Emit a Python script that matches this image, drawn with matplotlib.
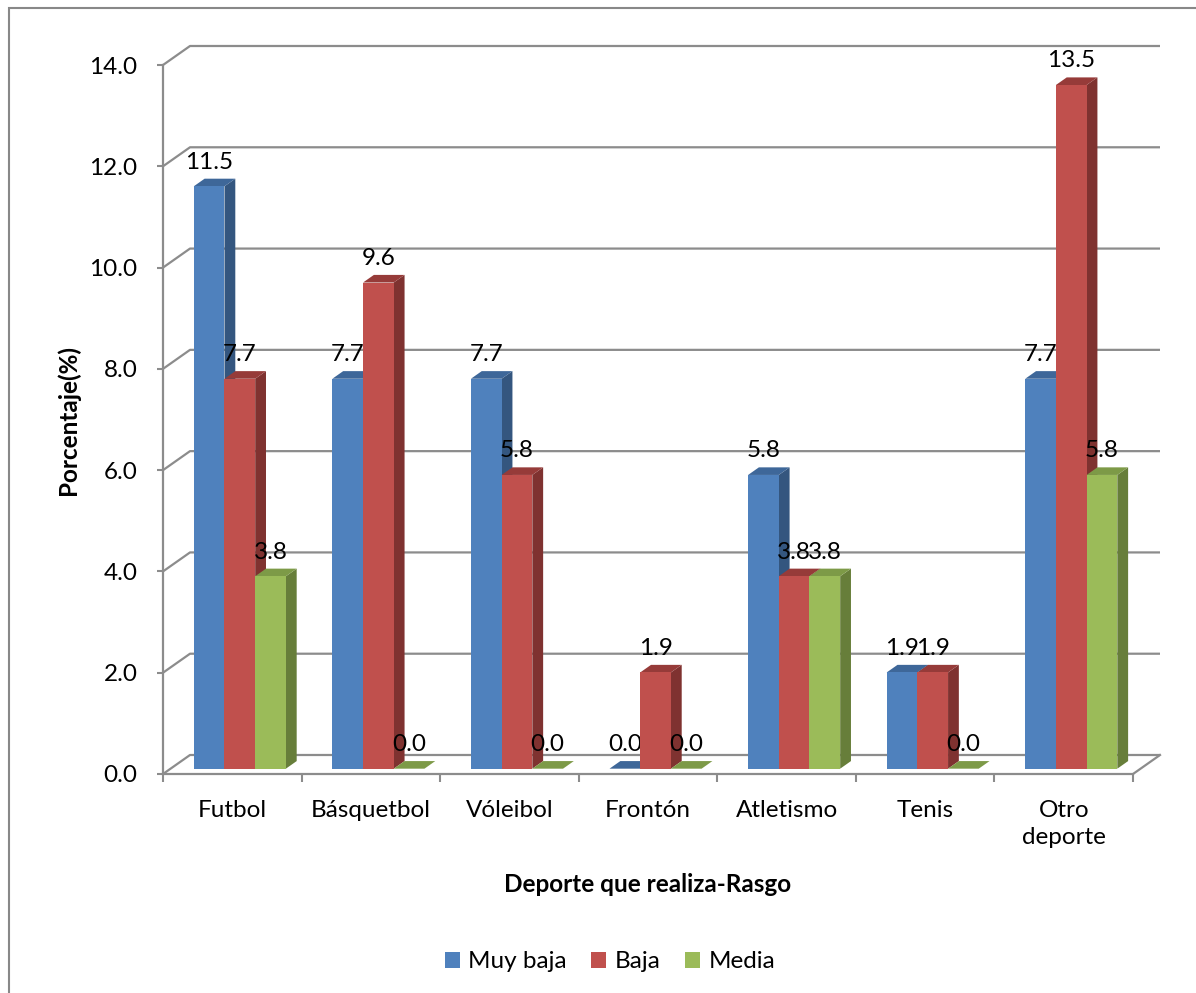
import numpy as np
import matplotlib
matplotlib.use("Agg")
import matplotlib.pyplot as plt
from matplotlib.patches import Polygon, Rectangle

plt.rcParams['font.family'] = ['Lato', 'DejaVu Sans']

categories = ["Futbol", "Básquetbol", "Vóleibol", "Frontón", "Atletismo", "Tenis", "Otro\ndeporte"]
series_names = ["Muy baja", "Baja", "Media"]
muy_baja = [11.5, 7.7, 7.7, 0.0, 5.8, 1.9, 7.7]
baja = [7.7, 9.6, 5.8, 1.9, 3.8, 1.9, 13.5]
media = [3.8, 0.0, 0.0, 0.0, 3.8, 0.0, 5.8]
yticks = [0, 2, 4, 6, 8, 10, 12, 14]

front_colors = ["#4F81BD", "#C0504D", "#9BBB59"]
top_colors = ["#3E6799", "#963B39", "#7D9A47"]
side_colors = ["#34567F", "#7F3230", "#677E3A"]

W, H = 1196, 993
fig = plt.figure(figsize=(W / 100, H / 100), dpi=100)
ax = fig.add_axes([163 / W, 1 - 774 / H, 970 / W, (774 - 65) / H])
ax.set_xlim(-0.5, len(categories) - 0.5)
ax.set_ylim(0, 14)
ax.patch.set_visible(False)

GRAY = "#8C8C8C"
FS = 17.5
# 3D oblique offsets in data units
DX = 27 / 138.57
DY = 19 / 50.64
F0, F1 = 0.28, 0.68

for s in ["top", "right"]:
    ax.spines[s].set_visible(False)
for s in ["left", "bottom"]:
    ax.spines[s].set_color(GRAY)
    ax.spines[s].set_linewidth(1.6)

# gridlines on back wall + left wall
x_left, x_right = -0.5, len(categories) - 0.5
for v in yticks:
    ax.plot([x_left, x_left + DX, x_right + DX], [v, v + DY, v + DY],
            color=GRAY, lw=1.6, clip_on=False, zorder=1, solid_capstyle='butt')
ax.plot([x_right, x_right + DX], [0, DY], color=GRAY, lw=1.6, clip_on=False, zorder=1)

ax.set_yticks(yticks)
ax.set_yticklabels([f"{v:.1f}" for v in yticks], fontsize=FS)
ax.tick_params(axis='y', length=4.3, width=1.5, color=GRAY, pad=14)

ax.set_xticks(np.arange(-0.5, len(categories)), labels=[""] * (len(categories) + 1))
ax.tick_params(axis='x', which='major', length=5.8, width=1.5, color=GRAY)
ax.set_xticks(np.arange(len(categories)), minor=True)
ax.set_xticklabels(categories, minor=True, fontsize=FS, linespacing=1.4)
ax.tick_params(axis='x', which='minor', length=0, pad=18.5)

data = [muy_baja, baja, media]
w = 0.2215
for si, vals in enumerate(data):
    for ci, v in enumerate(vals):
        x0 = ci - 1.5 * w + si * w
        a, b = F0 * DX, F0 * DY
        a2, b2 = F1 * DX, F1 * DY
        z = 3 + si
        front = Rectangle((x0 + a, b), w, v, facecolor=front_colors[si], edgecolor='none', zorder=z)
        top = Polygon([(x0 + a, v + b), (x0 + w + a, v + b), (x0 + w + a2, v + b2), (x0 + a2, v + b2)],
                      closed=True, facecolor=top_colors[si], edgecolor='none', zorder=z)
        side = Polygon([(x0 + w + a, b), (x0 + w + a2, b2), (x0 + w + a2, v + b2), (x0 + w + a, v + b)],
                       closed=True, facecolor=side_colors[si], edgecolor='none', zorder=z)
        for p in (side, top, front):
            p.set_clip_on(False)
            ax.add_patch(p)
        ax.annotate(f"{v:.1f}", xy=(x0 + a + w / 2, v + b2), xytext=(0, 7.2),
                    textcoords='offset points', ha='center', va='baseline',
                    fontsize=FS, color='black', zorder=z + 0.5, annotation_clip=False)

fig.text(68 / W, 1 - 420 / H, "Porcentaje(%)", rotation=90, ha='center', va='center',
         fontsize=FS, fontweight='bold')
fig.text(648 / W, 1 - 885 / H, "Deporte que realiza-Rasgo", ha='center', va='center',
         fontsize=FS, fontweight='bold')

handles = [Rectangle((0, 0), 1, 1, facecolor=c, edgecolor='none') for c in front_colors]
fig.legend(handles, series_names, loc='center', bbox_to_anchor=(610 / W, 1 - 962 / H), ncol=3,
           frameon=False, fontsize=FS, handlelength=0.62, handleheight=0.62,
           handletextpad=0.35, columnspacing=1.0)

fig.patches.append(Rectangle((9 / W, -0.1), 1.2, 1.1 - 8 / H, transform=fig.transFigure,
                             fill=False, edgecolor="#888888", lw=1.5))

fig.savefig("out.png", dpi=100, facecolor='white')
